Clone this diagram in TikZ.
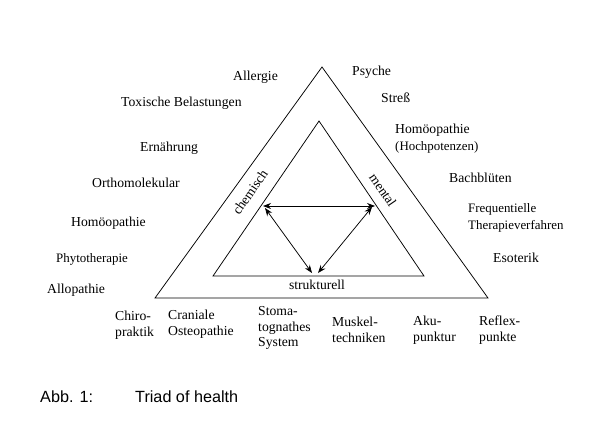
\documentclass[tikz,border=0pt]{standalone}
\usepackage{fontspec}
\setmainfont{Liberation Serif}
\newfontfamily\capfont{Liberation Sans}
\usetikzlibrary{arrows.meta}
\begin{document}
\begin{tikzpicture}[x=1pt,y=-1pt,
  lbl/.style={inner sep=0pt,anchor=west,align=left,font=\fontsize{13.7}{16}\selectfont},
  lbls/.style={lbl,font=\fontsize{12.9}{16.5}\selectfont},
  blbl/.style={lbl,font=\fontsize{13.7}{15.6}\selectfont},
  tri/.style={line width=0.75pt,line join=miter},
  dbl/.style={line width=0.75pt,{Stealth[length=8pt,width=6pt]}-{Stealth[length=8pt,width=6pt]}},
  side/.style={inner sep=0pt,font=\fontsize{13.6}{16}\selectfont},
  captxt/.style={inner sep=0pt,anchor=west,font=\capfont\fontsize{16.2}{18}\selectfont}]
\path[use as bounding box] (0,0) rectangle (609,420);
% triangles
\coordinate (oa) at (322,67);
\coordinate (ol) at (155,298);
\coordinate (or) at (488,298);
\coordinate (ia) at (319,121);
\coordinate (il) at (213,276);
\coordinate (ir) at (424,276);
\draw[tri] (oa) -- (ol) -- (or) -- cycle;
\draw[tri] (ia) -- (il) -- (ir) -- cycle;
% arrow end points
\coordinate (hl) at (263,206);
\coordinate (hr) at (375,206);
\coordinate (dl) at (265,208);
\coordinate (dr) at (372,207);
\coordinate (bl) at (312,273);
\coordinate (br) at (318,273);
\draw[dbl] (hl) -- (hr);
\draw[dbl] (dl) -- (bl);
\draw[dbl] (dr) -- (br);
% side labels
\node[side,rotate=55.6] (chem) at (250,192) {chemisch};
\node[side,rotate=-55.6] (ment) at (383,190) {mental};
\node[side] (strk) at (317,285) {strukturell};
% left labels
\node[lbl] (allerg) at (233,77) {Allergie};
\node[lbl] (toxi) at (121,103) {Toxische Belastungen};
\node[lbl] (ernae) at (140,148) {Ernährung};
\node[lbl] (ortho) at (92,183) {Orthomolekular};
\node[lbl] (homl) at (71,223) {Homöopathie};
\node[lbls] (phyto) at (56,259) {Phytotherapie};
\node[lbl] (allo) at (47,290) {Allopathie};
% right labels
\node[lbl] (psy) at (352,72) {Psyche};
\node[lbl] (stress) at (381,98) {Streß};
\node[lbls] (homr) at (395,138.5) {\fontsize{13.7}{16}\selectfont Homöopathie\\(Hochpotenzen)};
\node[lbl] (bach) at (449,178) {Bachblüten};
\node[lbls] (freq) at (468,218) {Frequentielle\\Therapieverfahren};
\node[lbl] (eso) at (493,258) {Esoterik};
% bottom labels
\node[blbl] (chiro) at (115,325) {Chiro-\\praktik};
\node[blbl] (cran) at (168,324) {Craniale\\Osteopathie};
\node[blbl] (stoma) at (258,328) {Stoma-\\tognathes\\System};
\node[blbl] (musk) at (332,330) {Muskel-\\techniken};
\node[blbl] (aku) at (413,330) {Aku-\\punktur};
\node[blbl] (refl) at (479,330) {Reflex-\\punkte};
% caption
\node[captxt] (abb) at (40,397) {Abb. 1:};
\node[captxt] (triad) at (135,397) {Triad of health};
\end{tikzpicture}
\end{document}
